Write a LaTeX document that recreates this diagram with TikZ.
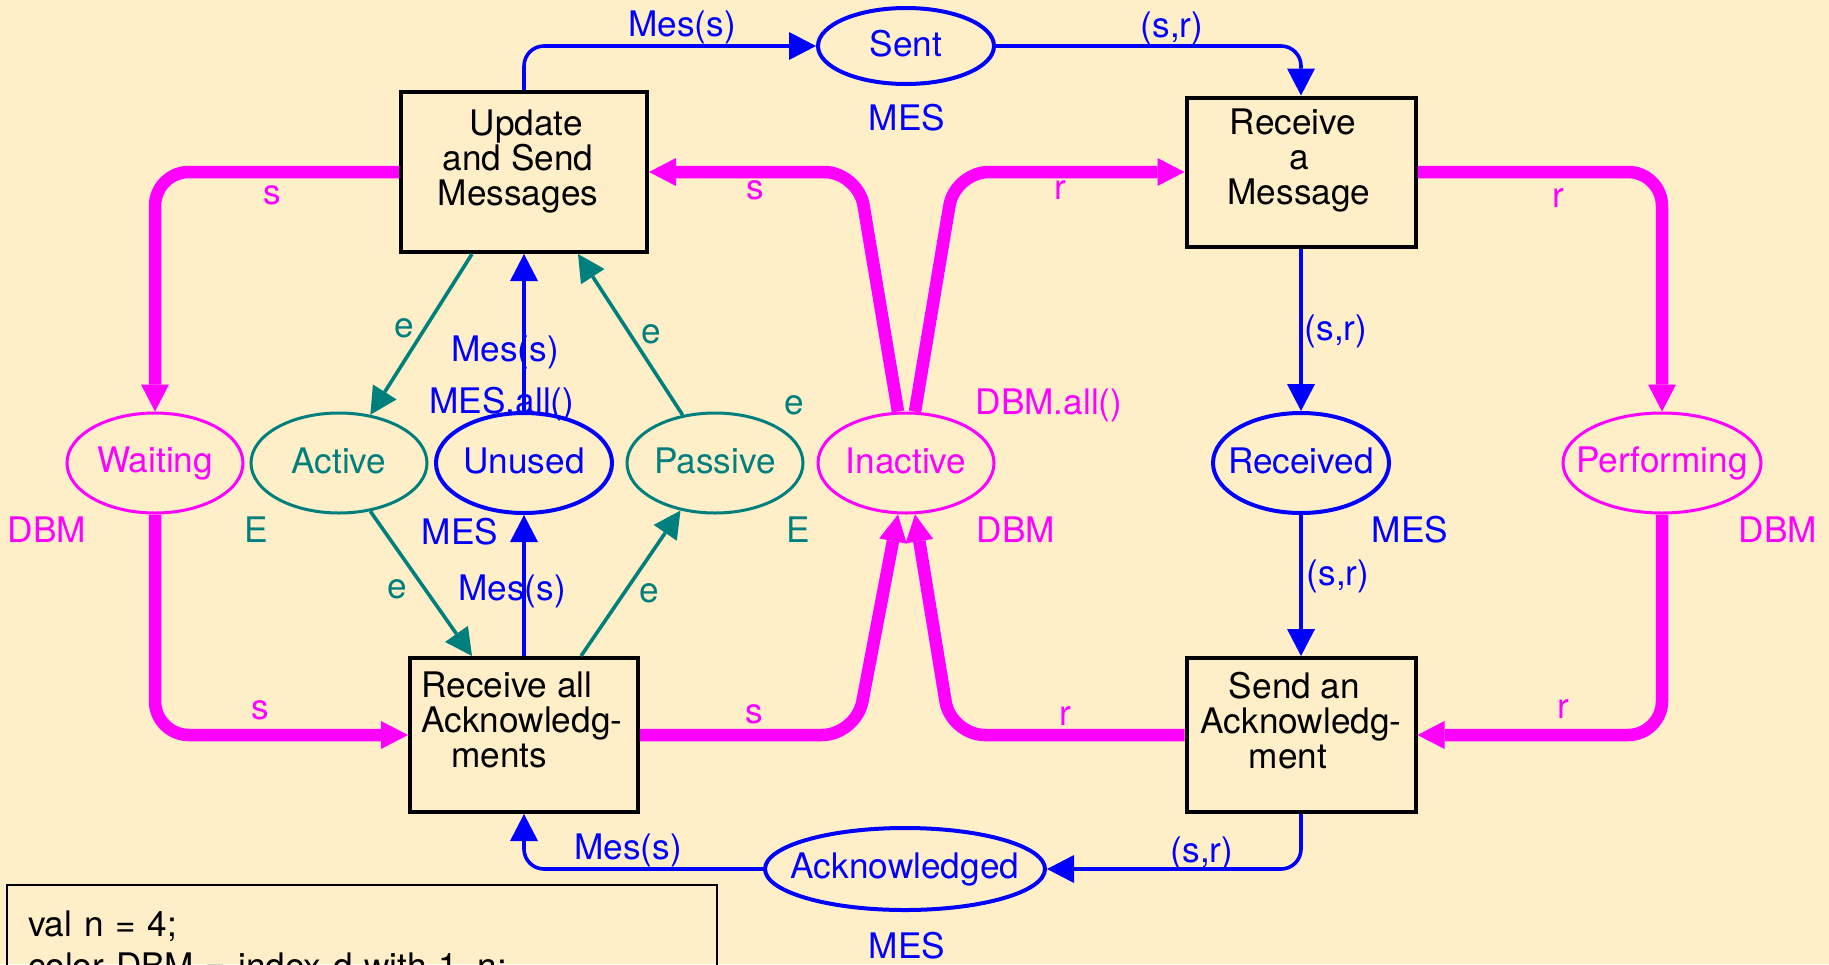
\documentclass[tikz,border=0pt]{standalone}
\usepackage{fontspec}
\setmainfont{TeX Gyre Heros}
\usetikzlibrary{arrows.meta,positioning,shapes.geometric}
\definecolor{cpnback}{HTML}{FFEFC8}
\definecolor{cpnblue}{HTML}{0000FF}
\definecolor{cpnpink}{HTML}{FF00FF}
\definecolor{cpnteal}{HTML}{007F7F}
\newcommand{\plname}[1]{\makebox[0pt]{\raisebox{2pt}{#1}}}
\tikzset{
    cpnfont/.style={font=\fontsize{17.6}{17.5}\selectfont},
    place/.style={ellipse, line width=1.5pt, minimum width=88pt, minimum height=50pt, inner sep=0pt, cpnfont},
    msgplace/.style={place, draw=cpnblue, text=cpnblue, line width=2pt},
    dbmplace/.style={place, draw=cpnpink, text=cpnpink},
    eplace/.style={place, draw=cpnteal, text=cpnteal},
    trans/.style={draw=black, line width=2pt, inner sep=0pt},
    transtext/.style={align=center, inner sep=0pt, cpnfont},
    inscr/.style={inner sep=0pt, cpnfont},
    tip/.style={-{Triangle[length=13.5pt,width=14pt,line width=0pt]}},
    msgarc/.style={tip, draw=cpnblue, line width=1.8pt, rounded corners=10pt},
    earc/.style={tip, draw=cpnteal, line width=1.8pt},
    dbmarc/.style={tip, draw=cpnpink, line width=6.25pt, rounded corners=17pt},
    declbox/.style={draw=black, line width=1pt, anchor=north west, align=left, text width=334pt,
        text depth=60pt, inner xsep=10.5pt, inner ysep=13pt, font=\fontsize{17.6}{21}\selectfont}
}

\begin{document}
\begin{tikzpicture}[x=0.5pt, y=-0.5pt]
    \clip (0,0) rectangle (1829,964);
    \fill[cpnback] (0,0) rectangle (1829,964);

    \node[trans, minimum width=123pt, minimum height=80pt] (upd) at (524,172) {};
    \node[trans, minimum width=114.5pt, minimum height=74.5pt] (rcv) at (1301,172) {};
    \node[trans, minimum width=114pt, minimum height=77pt] (rall) at (524,735) {};
    \node[trans, minimum width=114.5pt, minimum height=77pt] (sack) at (1301,735) {};

    \node[transtext, below=9.5pt of upd.north, xshift=-3pt] (updtxt) {\hspace*{8pt}Update\\and Send\\Messages};
    \node[transtext, below=6.5pt of rcv.north, xshift=-1pt] (rcvtxt) {Receive\hspace*{6pt}\\a\\Message};
    \node[transtext, align=left, below right=7.5pt and 6.5pt of rall.north west] (ralltxt) {Receive all\\Acknowledg-\\\hspace*{15pt}ments};
    \node[transtext, below=8pt of sack.north] (sacktxt) {Send an\hspace*{6.5pt}\\Acknowledg-\\ment\hspace*{13pt}};

    \node[msgplace, minimum height=38pt] (sent) at (906,46) {\plname{\raisebox{1pt}{Sent}}};
    \node[msgplace, minimum width=140pt, minimum height=41pt] (ack) at (905,869) {\plname{Acknowledged}};
    \node[dbmplace] (wait) at (155,463) {\plname{Waiting}};
    \node[eplace] (act) at (339,463) {\plname{Active}};
    \node[msgplace] (unused) at (524,463) {\plname{Unused}};
    \node[eplace] (pas) at (715,463) {\plname{Passive}};
    \node[dbmplace] (inact) at (906,463) {\plname{Inactive}};
    \node[msgplace] (recd) at (1301,463) {\plname{Received}};
    \node[dbmplace, minimum width=99pt] (perf) at (1662,463) {\plname{Performing}};

    \draw[msgarc] (upd.north) |- (sent.west);
    \draw[msgarc] (sent.east) -| (rcv.north);
    \draw[msgarc] (rcv.south) -- (recd.north);
    \draw[msgarc] (recd.south) -- (sack.north);
    \draw[msgarc] (sack.south) |- (ack.east);
    \draw[msgarc] (ack.west) -| (rall.south);
    \draw[msgarc] (unused.north) -- (upd.south);
    \draw[msgarc] (rall.north) -- (unused.south);

    \draw[earc] ([xshift=-26pt]upd.south) -- (act.57);
    \draw[earc] (pas.124) -- ([xshift=27pt]upd.south);
    \draw[earc] (act.-57) -- ([xshift=-26pt]rall.north);
    \draw[earc] ([xshift=28.5pt]rall.north) -- (pas.-126);

    \draw[dbmarc] (upd.west) -| (wait.north);
    \draw[dbmarc] (wait.south) |- (rall.west);
    \draw[dbmarc] ([xshift=-4pt]inact.north) -- (858,172) -- (upd.east);
    \draw[dbmarc] ([xshift=4.5pt]inact.north) -- (955,172) -- (rcv.west);
    \draw[dbmarc] (rcv.east) -| (perf.north);
    \draw[dbmarc] (perf.south) |- (sack.east);
    \draw[dbmarc] (rall.east) -- (856,735) -- ([xshift=-4pt]inact.south);
    \draw[dbmarc] (sack.west) -- (951,735) -- ([xshift=4.5pt]inact.south);

    \node[inscr, cpnblue] (lupdsent) at (682,27) {Mes(s)};
    \node[inscr, cpnblue] (lsentrcv) at (1172,28) {(s,r)};
    \node[inscr, cpnblue] (csent) at (907,118) {MES};
    \node[inscr, cpnpink] (lupdwait) at (272,195) {s};
    \node[inscr, cpnpink] (linactupd) at (755,190) {s};
    \node[inscr, cpnpink] (linactrcv) at (1060,190) {r};
    \node[inscr, cpnpink] (lrcvperf) at (1558,198) {r};
    \node[inscr, cpnteal] (lupdact) at (404,328) {e};
    \node[inscr, cpnblue] (lunusedupd) at (505,352) {Mes(s)};
    \node[inscr, cpnteal] (lpasupd) at (651,334) {e};
    \node[inscr, cpnblue] (iunused) at (502,404) {MES.all()};
    \node[inscr, cpnteal] (ipas) at (794,405) {e};
    \node[inscr, cpnpink] (iinact) at (1049,405) {DBM.all()};
    \node[inscr, cpnblue] (lrcvrecd) at (1336,331) {(s,r)};
    \node[inscr, cpnpink] (cwait) at (47,530) {DBM};
    \node[inscr, cpnteal] (cact) at (256,530) {E};
    \node[inscr, cpnblue] (cunused) at (460,532) {MES};
    \node[inscr, cpnteal] (cpas) at (798,530) {E};
    \node[inscr, cpnpink] (cinact) at (1016,530) {DBM};
    \node[inscr, cpnblue] (crecd) at (1410,530) {MES};
    \node[inscr, cpnpink] (cperf) at (1778,530) {DBM};
    \node[inscr, cpnteal] (lactrall) at (397,589) {e};
    \node[inscr, cpnblue] (lrallunused) at (512,591) {Mes(s)};
    \node[inscr, cpnteal] (lrallpas) at (649,593) {e};
    \node[inscr, cpnblue] (lrecdsack) at (1338,576) {(s,r)};
    \node[inscr, cpnpink] (lwaitrall) at (260,710) {s};
    \node[inscr, cpnpink] (lrallinact) at (754,714) {s};
    \node[inscr, cpnpink] (lsackinact) at (1065,716) {r};
    \node[inscr, cpnpink] (lperfsack) at (1563,709) {r};
    \node[inscr, cpnblue] (lackrall) at (628,850) {Mes(s)};
    \node[inscr, cpnblue] (lsackack) at (1202,853) {(s,r)};
    \node[inscr, cpnblue] (cack) at (907,946) {MES};

    \node[declbox] (decl) at (6,884) {val n = 4;\\color DBM = index d with 1..n;};
\end{tikzpicture}
\end{document}
